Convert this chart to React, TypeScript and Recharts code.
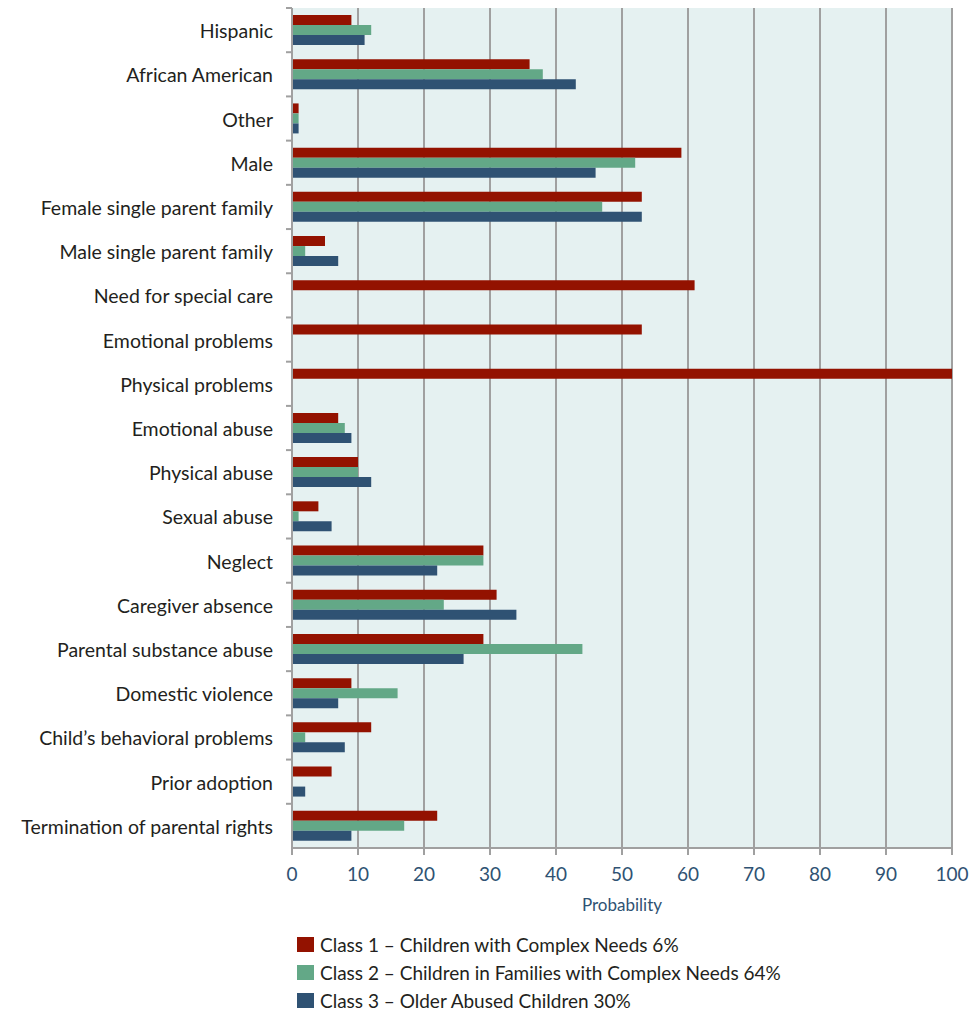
import { Bar, BarChart, CartesianGrid, XAxis, YAxis } from 'recharts';

const categories = [
  'Hispanic',
  'African American',
  'Other',
  'Male',
  'Female single parent family',
  'Male single parent family',
  'Need for special care',
  'Emotional problems',
  'Physical problems',
  'Emotional abuse',
  'Physical abuse',
  'Sexual abuse',
  'Neglect',
  'Caregiver absence',
  'Parental substance abuse',
  'Domestic violence',
  'Child\u2019s behavioral problems',
  'Prior adoption',
  'Termination of parental rights',
];

const class1 = [9, 36, 1, 59, 53, 5, 61, 53, 100, 7, 10, 4, 29, 31, 29, 9, 12, 6, 22];
const class2 = [12, 38, 1, 52, 47, 2, 0, 0, 0, 8, 10, 1, 29, 23, 44, 16, 2, 0, 17];
const class3 = [11, 43, 1, 46, 53, 7, 0, 0, 0, 9, 12, 6, 22, 34, 26, 7, 8, 2, 9];

const xTicks = [0, 10, 20, 30, 40, 50, 60, 70, 80, 90, 100];

const seriesNames = [
  'Class 1 \u2013 Children with Complex Needs 6%',
  'Class 2 \u2013 Children in Families with Complex Needs 64%',
  'Class 3 \u2013 Older Abused Children 30%',
];
const COLORS = ['#931200', '#63a887', '#2f5273'];

const data = categories.map((name, i) => ({
  name,
  c1: class1[i],
  c2: class2[i],
  c3: class3[i],
}));

const WIDTH = 977;
const HEIGHT = 1011;
const TOP = 8;
const PLOT_BOTTOM = 848;
const X_AXIS_HEIGHT = 65;
const BAND = (PLOT_BOTTOM - TOP) / categories.length;

const CategoryTick = (props: any) => {
  const { x, y, payload } = props;
  return (
    <g>
      <line x1={x + 2} x2={x + 8} y1={y - BAND / 2} y2={y - BAND / 2} stroke="#a0a0a0" strokeWidth={2} />
      <text x={x - 11} y={y} dy={8} textAnchor="end" fontSize={19.5} fill="#231f20" fontFamily="Lato">
        {payload.value}
      </text>
    </g>
  );
};

export default function App() {
  return (
    <div style={{ position: 'absolute', left: 0, top: 0, width: WIDTH, height: HEIGHT, background: '#fff' }}>
      <BarChart
        width={WIDTH}
        height={HEIGHT}
        data={data}
        layout="vertical"
        margin={{ top: TOP, right: 25, bottom: HEIGHT - PLOT_BOTTOM - X_AXIS_HEIGHT, left: 0 }}
        barGap={0}
        barSize={10}
      >
        <CartesianGrid horizontal={false} stroke="#a0a0a0" strokeWidth={2} fill="#e5f1f1" />
        <XAxis
          type="number"
          domain={[0, 100]}
          ticks={xTicks}
          allowDataOverflow
          stroke="#a0a0a0"
          strokeWidth={2}
          tickSize={7}
          tickMargin={13}
          tick={{ fill: '#2f5273', fontSize: 19, fontFamily: 'Lato' }}
          label={{ value: 'Probability', position: 'insideBottom', offset: 2, fill: '#2f5273', fontSize: 17, fontFamily: 'Lato' } as any}
          height={X_AXIS_HEIGHT}
        />
        <YAxis
          type="category"
          dataKey="name"
          width={292}
          stroke="#a0a0a0"
          strokeWidth={2}
          tickLine={false}
          interval={0}
          tick={<CategoryTick />}
        />
        <Bar dataKey="c1" name={seriesNames[0]} fill={COLORS[0]} isAnimationActive={false} />
        <Bar dataKey="c2" name={seriesNames[1]} fill={COLORS[1]} isAnimationActive={false} />
        <Bar dataKey="c3" name={seriesNames[2]} fill={COLORS[2]} isAnimationActive={false} />
      </BarChart>
      <div
        style={{
          position: 'absolute',
          left: 297,
          top: 930,
          fontFamily: 'Lato',
          fontSize: 19,
          color: '#231f20',
        }}
      >
        {seriesNames.map((name, i) => (
          <div key={name} style={{ display: 'flex', alignItems: 'center', height: 28 }}>
            <span style={{ width: 17, height: 15, background: COLORS[i], marginRight: 6, display: 'inline-block' }} />
            {name}
          </div>
        ))}
      </div>
    </div>
  );
}
